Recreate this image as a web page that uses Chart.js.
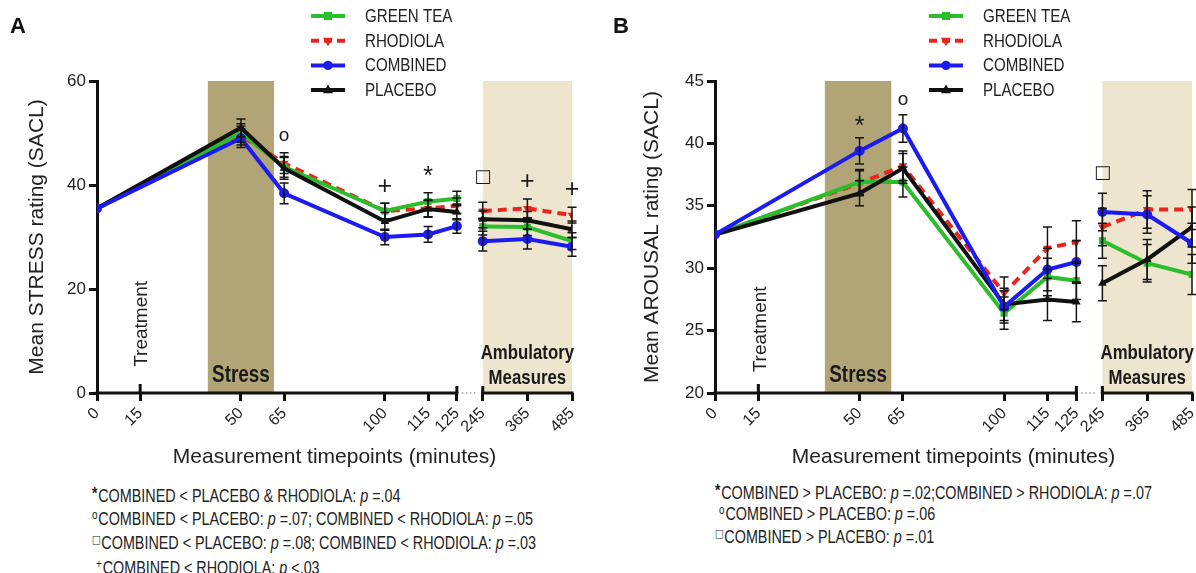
<!DOCTYPE html>
<html>
<head>
<meta charset="UTF-8">
<title>Stress and arousal ratings (SACL)</title>
<script src="https://cdn.jsdelivr.net/npm/chart.js"></script>
<style>
  body { margin: 0; background: #fff; }
  #page { position: relative; width: 1196px; height: 573px; overflow: hidden; background: #fff; }
  canvas { position: absolute; top: 0; }
  .letter { position: absolute; top: 13px; font: bold 22px "Liberation Sans", Arial, sans-serif; color: #111; }
  /* no narrow face installed, so squeeze the regular one */
  .notes { position: absolute; font-family: "Liberation Sans", Arial, sans-serif; font-size: 17.5px; color: #222; white-space: nowrap; transform: scaleX(0.82); transform-origin: 0 0; }
  .notes i { font-style: italic; }
  .sym { position: relative; top: -6px; font-size: 12px; margin-right: 1px; }
  .sym.star { font-weight: bold; font-size: 17px; top: -3px; }
  .sym.sq { font-family: "DejaVu Sans", sans-serif; font-size: 11px; }
</style>
</head>
<body>
<div id="page">
  <canvas id="chartA" width="600" height="480" style="left:0"></canvas>
  <canvas id="chartB" width="620" height="480" style="left:600px"></canvas>
  <div class="letter" style="left:10px">A</div>
  <div class="letter" style="left:613px">B</div>

  <div class="notes" style="left:92px; top:485px; line-height:22.1px">
    <div><span class="sym star">*</span>COMBINED &lt; PLACEBO &amp; RHODIOLA: <i>p</i> =.04</div>
    <div><span class="sym">o</span>COMBINED &lt; PLACEBO: <i>p</i> =.07; COMBINED &lt; RHODIOLA: <i>p</i> =.05</div>
    <div><span class="sym sq">□</span>COMBINED &lt; PLACEBO: <i>p</i> =.08; COMBINED &lt; RHODIOLA: <i>p</i> =.03</div>
    <div><span class="sym" style="margin-left:5px">+</span>COMBINED &lt; RHODIOLA: <i>p</i> &lt;.03</div>
  </div>

  <div class="notes" style="left:715px; top:483px; line-height:21px">
    <div><span class="sym star">*</span>COMBINED &gt; PLACEBO: <i>p</i> =.02;COMBINED &gt; RHODIOLA: <i>p</i> =.07</div>
    <div><span class="sym" style="margin-left:5px">o</span>COMBINED &gt; PLACEBO: <i>p</i> =.06</div>
    <div><span class="sym sq">□</span>COMBINED &gt; PLACEBO: <i>p</i> =.01</div>
  </div>
</div>

<script>
// measurement timepoints (minutes) and the axis tick labels
const timepoints = [0, 50, 65, 100, 115, 125, 245, 365, 485];
const tickMinutes = [0, 15, 50, 65, 100, 115, 125, 245, 365, 485];
const groups = ['GREEN TEA', 'RHODIOLA', 'COMBINED', 'PLACEBO'];

// A: mean STRESS rating
const stressGreenTea = [35.5, 50.0, 43.5, 35.0, 36.8, 37.4, 32.0, 31.9, 29.2];
const stressRhodiola = [35.5, 49.5, 44.2, 35.0, 35.5, 36.0, 35.0, 35.5, 34.2];
const stressCombined = [35.5, 49.0, 38.4, 30.0, 30.5, 32.1, 29.2, 29.6, 28.1];
const stressPlacebo  = [35.5, 51.0, 43.2, 33.0, 35.4, 34.8, 33.4, 33.2, 31.5];
const stressErrGreenTea = [0, 1.8, 2.0, 1.5, 1.7, 1.4, 1.6, 1.6, 1.6];
const stressErrRhodiola = [0, 1.8, 2.0, 1.5, 1.6, 1.5, 1.7, 1.8, 1.5];
const stressErrCombined = [0, 1.8, 2.0, 1.5, 1.5, 1.4, 1.9, 1.9, 1.8];
const stressErrPlacebo  = [0, 1.7, 2.1, 1.7, 1.6, 1.5, 1.6, 1.7, 1.6];
const stressMarks = [['o', 65, 49.4], ['+', 100, 39.6], ['*', 115, 42.3], ['□', 245, 41.5], ['+', 365, 40.6], ['+', 485, 39.0]];

// B: mean AROUSAL rating
const arousalGreenTea = [32.7, 36.9, 36.9, 26.4, 29.3, 29.0, 32.2, 30.4, 29.5];
const arousalRhodiola = [32.7, 36.8, 38.2, 28.0, 31.6, 32.1, 33.3, 34.7, 34.7];
const arousalCombined = [32.7, 39.4, 41.2, 26.9, 29.9, 30.5, 34.5, 34.3, 32.0];
const arousalPlacebo  = [32.7, 36.0, 38.0, 27.1, 27.5, 27.3, 28.8, 30.7, 33.3];
const arousalErrGreenTea = [0, 1.0, 1.2, 1.3, 1.5, 1.5, 1.4, 1.5, 1.6];
const arousalErrRhodiola = [0, 1.0, 1.2, 1.3, 1.7, 1.7, 1.5, 1.5, 1.6];
const arousalErrCombined = [0, 1.05, 1.1, 1.3, 1.7, 1.7, 1.5, 1.5, 1.6];
const arousalErrPlacebo  = [0, 1.0, 1.2, 1.3, 1.7, 1.6, 1.4, 1.6, 1.6];
const arousalMarks = [['*', 50, 41.6], ['o', 65, 43.5], ['□', 245, 37.6]];

const colors = ['#2bbd2b', '#e8261e', '#1c1cf0', '#111111'];
const pointStyles = ['rect', 'triangle', 'circle', 'triangle'];
const rotations = [0, 180, 0, 0];
const dashes = [[], [9, 6], [], []];
const drawOrder = [2, 3, 0, 1];

// broken axis: 0-125 min linear, then 245-485 squeezed after a gap
function axisPos(t) {
  return t <= 125 ? t : 134 + (t - 245) * 31 / 240;
}

const FONT = '"Liberation Sans", Arial, sans-serif';

// condensed text: no narrow face available, so scale horizontally
function narrowText(ctx, text, x, y, font, sx) {
  ctx.save();
  ctx.translate(x, y);
  ctx.scale(sx, 1);
  ctx.font = font;
  ctx.fillText(text, 0, 0);
  ctx.restore();
}

function marker(ctx, style, rot, x, y, r) {
  ctx.beginPath();
  if (style === 'rect') {
    ctx.rect(x - r * 0.75, y - r * 0.75, r * 1.5, r * 1.5);
  } else if (style === 'circle') {
    ctx.arc(x, y, r * 0.85, 0, Math.PI * 2);
  } else {
    const s = rot ? -1 : 1;
    ctx.moveTo(x, y - s * r);
    ctx.lineTo(x + r * 0.9, y + s * r * 0.55);
    ctx.lineTo(x - r * 0.9, y + s * r * 0.55);
    ctx.closePath();
  }
  ctx.fill();
}

const decor = {
  id: 'decor',
  beforeDatasetsDraw(chart, args, opts) {
    const ctx = chart.ctx, xs = chart.scales.x, ys = chart.scales.y, area = chart.chartArea;
    ctx.save();
    // stress and ambulatory windows
    const s0 = xs.getPixelForValue(opts.stressFrom), s1 = xs.getPixelForValue(opts.stressTo);
    ctx.fillStyle = '#b1a477';
    ctx.fillRect(s0, area.top, s1 - s0, area.bottom - area.top);
    const a0 = xs.getPixelForValue(axisPos(245)), a1 = xs.getPixelForValue(axisPos(485));
    ctx.fillStyle = '#ede5cd';
    ctx.fillRect(a0, area.top, a1 - a0, area.bottom - area.top);

    ctx.fillStyle = '#1a1a1a';
    ctx.textAlign = 'center';
    ctx.textBaseline = 'middle';
    narrowText(ctx, 'Stress', (s0 + s1) / 2, area.bottom - 17, 'bold 23px ' + FONT, 0.82);
    narrowText(ctx, 'Ambulatory', (a0 + a1) / 2, area.bottom - 40, 'bold 20.5px ' + FONT, 0.82);
    narrowText(ctx, 'Measures', (a0 + a1) / 2, area.bottom - 15, 'bold 20.5px ' + FONT, 0.82);

    // treatment label
    ctx.save();
    ctx.translate(xs.getPixelForValue(15) + 2, ys.getPixelForValue(opts.treatmentAt));
    ctx.rotate(-Math.PI / 2);
    ctx.font = '19px ' + FONT;
    ctx.fillStyle = '#222';
    ctx.fillText('Treatment', 0, 0);
    ctx.restore();

    // broken x axis line
    const yb = area.bottom;
    const p0 = xs.getPixelForValue(0), p125 = xs.getPixelForValue(125);
    ctx.strokeStyle = '#111';
    ctx.lineWidth = 3;
    ctx.beginPath();
    ctx.moveTo(p0 - 1.5, yb); ctx.lineTo(p125 + 1.5, yb);
    ctx.moveTo(a0 - 1.5, yb); ctx.lineTo(a1 + 1.5, yb);
    ctx.stroke();
    ctx.beginPath();
    const p15 = xs.getPixelForValue(15);
    ctx.moveTo(p15, yb); ctx.lineTo(p15, yb - 9);
    ctx.moveTo(p125, yb); ctx.lineTo(p125, yb - 7);
    ctx.moveTo(a0, yb); ctx.lineTo(a0, yb - 7);
    ctx.stroke();
    ctx.setLineDash([1.5, 2.5]);
    ctx.strokeStyle = '#9a9a9a';
    ctx.lineWidth = 1.5;
    ctx.beginPath();
    ctx.moveTo(p125 + 5, yb); ctx.lineTo(a0 - 5, yb);
    ctx.stroke();
    ctx.restore();
  },
  afterDatasetsDraw(chart, args, opts) {
    const ctx = chart.ctx, xs = chart.scales.x, ys = chart.scales.y, area = chart.chartArea;
    ctx.save();
    // error bars
    ctx.strokeStyle = '#151515';
    ctx.lineWidth = 1.5;
    opts.means.forEach((vals, k) => {
      vals.forEach((v, i) => {
        const e = opts.errs[k][i];
        if (!e) return;
        const x = xs.getPixelForValue(axisPos(timepoints[i]));
        const yt = ys.getPixelForValue(v + e), yl = ys.getPixelForValue(v - e);
        ctx.beginPath();
        ctx.moveTo(x, yt); ctx.lineTo(x, yl);
        ctx.moveTo(x - 4.5, yt); ctx.lineTo(x + 4.5, yt);
        ctx.moveTo(x - 4.5, yl); ctx.lineTo(x + 4.5, yl);
        ctx.stroke();
      });
    });

    // significance marks
    ctx.fillStyle = '#1a1a1a';
    ctx.textAlign = 'center';
    ctx.textBaseline = 'middle';
    opts.marks.forEach(([sym, t, v]) => {
      const x = xs.getPixelForValue(axisPos(t)), y = ys.getPixelForValue(v);
      if (sym === '□') ctx.font = '18px "DejaVu Sans", sans-serif';
      else if (sym === '*') ctx.font = '25px ' + FONT;
      else if (sym === '+') ctx.font = '25px ' + FONT;
      else ctx.font = '19px ' + FONT;
      ctx.fillText(sym, x, sym === '*' ? y + 4 : y);
    });

    // legend
    const lx = area.left + 214;
    groups.forEach((name, k) => {
      const y = 16 + k * 24.7;
      ctx.strokeStyle = colors[k];
      ctx.fillStyle = colors[k];
      ctx.lineWidth = 4;
      ctx.setLineDash(k === 1 ? [8, 5] : []);
      ctx.beginPath();
      ctx.moveTo(lx, y); ctx.lineTo(lx + 34, y);
      ctx.stroke();
      ctx.setLineDash([]);
      marker(ctx, pointStyles[k], rotations[k], lx + 17, y, 5.5);
      ctx.fillStyle = '#222';
      ctx.textAlign = 'left';
      narrowText(ctx, name, lx + 54, y + 1, '18px ' + FONT, 0.84);
    });
    ctx.restore();
  }
};

function makeChart(id, cfg) {
  const datasets = cfg.means.map((vals, k) => {
    const pts = [];
    vals.forEach((v, i) => {
      if (timepoints[i] === 245) pts.push({ x: 129.5, y: null });
      pts.push({ x: axisPos(timepoints[i]), y: v });
    });
    return {
      label: groups[k],
      data: pts,
      borderColor: colors[k],
      backgroundColor: colors[k],
      borderWidth: 4,
      borderDash: dashes[k],
      pointStyle: pointStyles[k],
      pointRotation: rotations[k],
      pointRadius: 5,
      pointBorderWidth: 0,
      pointBackgroundColor: colors[k],
      tension: 0,
      spanGaps: false,
      order: drawOrder[k]
    };
  });

  return new Chart(document.getElementById(id), {
    type: 'line',
    data: { datasets },
    options: {
      responsive: false,
      animation: false,
      layout: { padding: { top: 81, right: 28, left: 0, bottom: 0 } },
      plugins: {
        legend: { display: false },
        tooltip: { enabled: false },
        decor: cfg
      },
      scales: {
        x: {
          type: 'linear',
          min: 0,
          max: axisPos(485),
          afterBuildTicks: (s) => { s.ticks = tickMinutes.map(t => ({ value: axisPos(t) })); },
          afterFit: (s) => { s.height = 480 - 393; },
          ticks: {
            autoSkip: false,
            minRotation: 45,
            maxRotation: 45,
            padding: 3,
            color: '#222',
            font: { family: FONT, size: 16 },
            callback: (v, i) => String(tickMinutes[i])
          },
          grid: { drawOnChartArea: false, drawTicks: true, tickLength: 8, lineWidth: 3, color: '#111' },
          border: { display: false },
          title: {
            display: true,
            text: 'Measurement timepoints (minutes)',
            color: '#222',
            font: { family: FONT, size: 21 },
            padding: { top: 0, bottom: 10 }
          }
        },
        y: {
          min: cfg.yMin,
          max: cfg.yMax,
          afterFit: (s) => { s.width = cfg.yWidth; },
          ticks: {
            stepSize: cfg.step,
            padding: 3,
            color: '#222',
            font: { family: FONT, size: 17 }
          },
          grid: { drawOnChartArea: false, drawTicks: true, tickLength: 8, lineWidth: 3, color: '#111' },
          border: { display: true, width: 3, color: '#111' },
          title: {
            display: true,
            text: cfg.yTitle,
            color: '#222',
            font: { family: FONT, size: 21 },
            padding: { top: cfg.yTitlePad, bottom: 0 }
          }
        }
      }
    },
    plugins: [decor]
  });
}

makeChart('chartA', {
  means: [stressGreenTea, stressRhodiola, stressCombined, stressPlacebo],
  errs: [stressErrGreenTea, stressErrRhodiola, stressErrCombined, stressErrPlacebo],
  marks: stressMarks,
  yMin: 0, yMax: 60, step: 20,
  yTitle: 'Mean STRESS rating (SACL)',
  yTitlePad: 25, yWidth: 97,
  treatmentAt: 13.3,
  stressFrom: 38.5, stressTo: 61.5
});

makeChart('chartB', {
  means: [arousalGreenTea, arousalRhodiola, arousalCombined, arousalPlacebo],
  errs: [arousalErrGreenTea, arousalErrRhodiola, arousalErrCombined, arousalErrPlacebo],
  marks: arousalMarks,
  yMin: 20, yMax: 45, step: 5,
  yTitle: 'Mean AROUSAL rating (SACL)',
  yTitlePad: 40, yWidth: 115,
  treatmentAt: 25.1,
  stressFrom: 38, stressTo: 61
});
</script>
</body>
</html>
